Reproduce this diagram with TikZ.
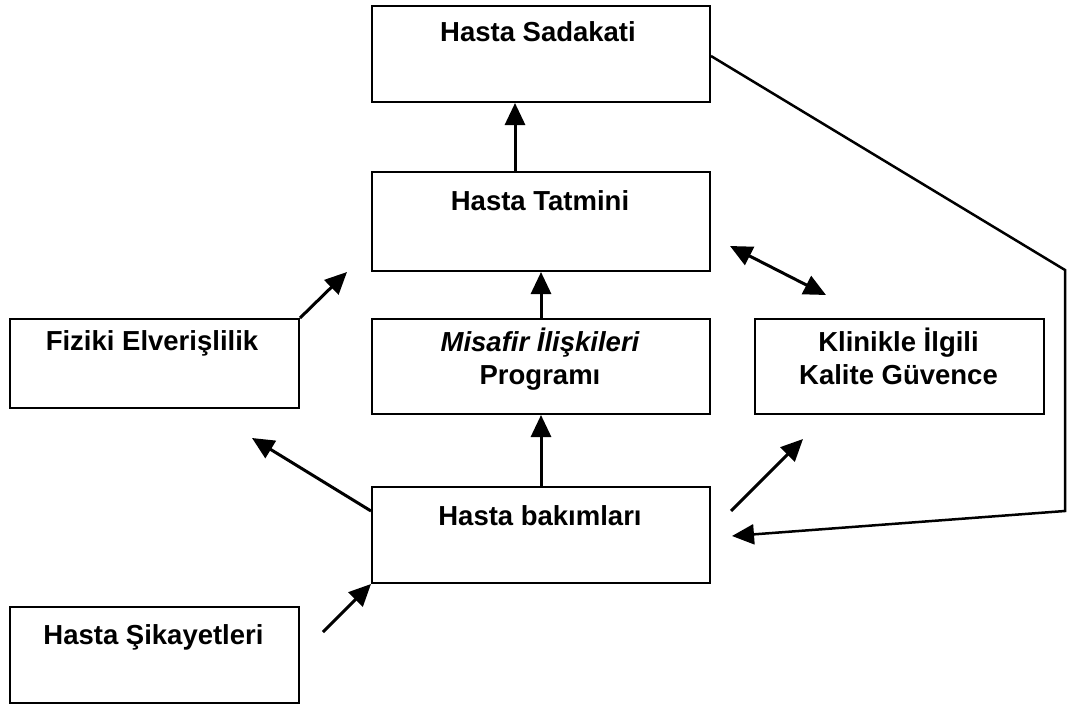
\documentclass[tikz,border=0pt]{standalone}
\usepackage{fontspec}
\setmainfont{Liberation Sans}
\usetikzlibrary{arrows.meta,calc}
\begin{document}
\begin{tikzpicture}[x=1pt,y=-1pt,
  box/.style={draw=black,line width=2pt,rectangle,inner sep=0pt,anchor=north west},
  lbl/.style={anchor=base,inner sep=0pt,font=\fontsize{27.5}{32}\selectfont\bfseries},
  arr/.style={line width=3pt,-{Triangle[length=22pt,width=20pt]}},
  dbl/.style={line width=3pt,{Triangle[length=22pt,width=20pt]}-{Triangle[length=22pt,width=20pt]}},
  link/.style={line width=2.5pt}]
\useasboundingbox (0,0) rectangle (1067,706);

% boxes
\node[box,minimum width=338pt,minimum height=96pt] (sad) at (371,5) {};
\node[box,minimum width=338pt,minimum height=99pt] (tat) at (371,171) {};
\node[box,minimum width=289pt,minimum height=89pt] (fiz) at (9,318) {};
\node[box,minimum width=338pt,minimum height=95pt] (mis) at (371,318) {};
\node[box,minimum width=289pt,minimum height=95pt] (kli) at (754,318) {};
\node[box,minimum width=338pt,minimum height=96pt] (bak) at (371,486) {};
\node[box,minimum width=289pt,minimum height=96pt] (sik) at (9,606) {};

% labels
\node[lbl] (tsad) at (538,42) {Hasta Sadakati};
\node[lbl] (ttat) at (540,210) {Hasta Tatmini};
\node[lbl] (tfiz) at (152,350) {Fiziki Elverişlilik};
\node[lbl] (tmis1) at (540,351) {\itshape Misafir İlişkileri};
\node[lbl] (tmis2) at (540,384) {Programı};
\node[lbl] (tkli1) at (898.5,351) {Klinikle İlgili};
\node[lbl] (tkli2) at (898.5,384) {Kalite Güvence};
\node[lbl] (tbak) at (540,525) {Hasta bakımları};
\node[lbl] (tsik) at (153.5,644) {Hasta Şikayetleri};

% free ends of the loose arrows
\coordinate (fizTip) at (347,272);
\coordinate (dblA) at (730,246);
\coordinate (dblB) at (826,295);
\coordinate (bakTip) at (252,438);
\coordinate (kliTail) at (731,511);
\coordinate (kliTip) at (803,439);
\coordinate (sikTail) at (323,632);
\coordinate (loopA) at (1065,270);
\coordinate (loopB) at (1065,511);
\coordinate (loopTip) at (732,536);

% connectors
\draw[arr] ([xshift=-26pt]tat.north) -- ([xshift=-26pt]sad.south);
\draw[arr] (mis.north) -- (tat.south);
\draw[arr] (bak.north) -- (mis.south);
\draw[arr] (fiz.north east) -- (fizTip);
\draw[dbl] (dblA) -- (dblB);
\draw[arr] ([yshift=24pt]bak.west) -- (bakTip);
\draw[arr] (kliTail) -- (kliTip);
\draw[arr] (sikTail) -- (bak.south west);
\draw[link,-{Triangle[length=22pt,width=20pt]}] ([yshift=-2pt]sad.east) -- (loopA) -- (loopB) -- (loopTip);
\end{tikzpicture}
\end{document}
